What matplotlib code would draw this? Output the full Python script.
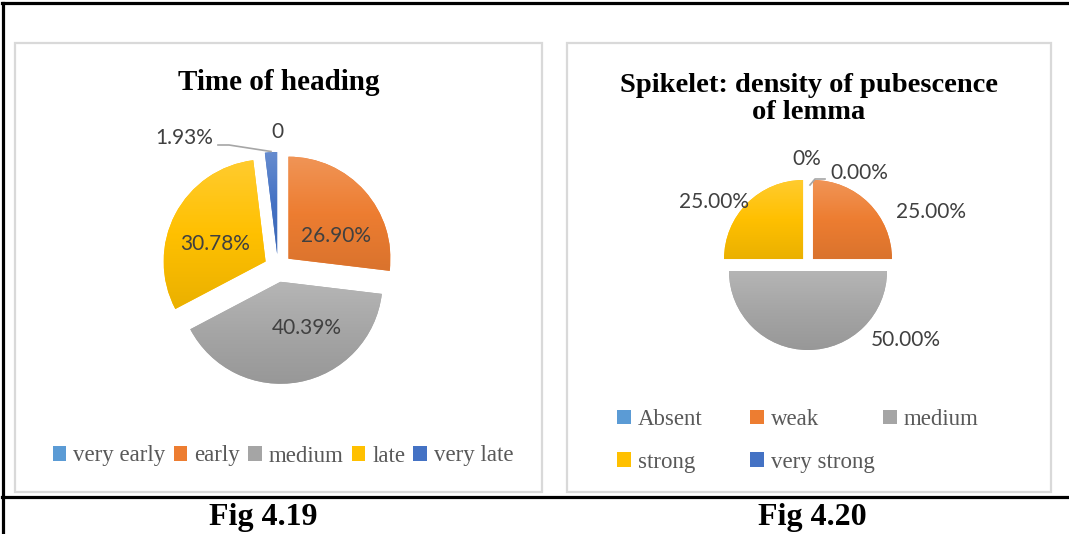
import matplotlib.pyplot as plt
import matplotlib.colors as mcolors
import numpy as np
from matplotlib.patches import Rectangle
from matplotlib.lines import Line2D

W, H = 1069, 534

# Fig 4.19 - time of heading
heading_labels = ["very early", "early", "medium", "late", "very late"]
heading_values = [0.0, 26.90, 40.39, 30.78, 1.93]
heading_text = ["0", "26.90%", "40.39%", "30.78%", "1.93%"]

# Fig 4.20 - density of pubescence of lemma
lemma_labels = ["Absent", "weak", "medium", "strong", "very strong"]
lemma_values = [0.0, 25.0, 50.0, 25.0, 0.0]
lemma_text = ["0%", "25.00%", "50.00%", "25.00%", "0.00%"]

colors = ["#5B9BD5", "#ED7D31", "#A5A5A5", "#FFC000", "#4472C4"]

# label positions (pixels) for the data labels
heading_label_xy = [(277, 132), (336, 236), (307, 328), (215, 244), (184, 138)]
lemma_label_xy = [(807, 159), (931, 212), (906, 340), (714, 202), (859, 173)]

SERIF = "Liberation Serif"
SANS = "Lato"
LABEL_C = "#404040"
LEGEND_C = "#595959"


def mix(c, other, t):
    a = np.array(mcolors.to_rgb(c))
    b = np.array(mcolors.to_rgb(other))
    return tuple(a * (1 - t) + b * t)


def gradient_fill(ax, wedges, values):
    for w, v in zip(wedges, values):
        if v <= 0:
            continue
        base = w.get_facecolor()
        cmap = mcolors.LinearSegmentedColormap.from_list(
            "g", [mix(base, "white", 0.18), base[:3], mix(base, "black", 0.08)])
        ext = w.get_path().get_extents()
        grad = np.linspace(0, 1, 64).reshape(-1, 1)
        im = ax.imshow(grad, cmap=cmap, aspect="auto",
                       extent=(ext.x0, ext.x1, ext.y1, ext.y0),
                       zorder=w.get_zorder() + 0.1, interpolation="bilinear")
        im.set_clip_path(w)


fig = plt.figure(figsize=(W / 100, H / 100), dpi=100)
ax = fig.add_axes([0, 0, 1, 1])

# page / table lines (figure pixels, y from top)
for xs, ys in [([2, W], [3, 3]), ([3, 3], [3, H]), ([2, W], [497, 497])]:
    fig.add_artist(Line2D([x / W for x in xs], [1 - y / H for y in ys],
                          color="black", lw=2.3, transform=fig.transFigure))
ax.add_patch(Rectangle((15, 43), 527, 449, fill=False, ec="#D9D9D9", lw=1.6))
ax.add_patch(Rectangle((567, 43), 484, 449, fill=False, ec="#D9D9D9", lw=1.6))

# left pie (explode in pixels)
explode = [14] * len(heading_values)
w1, _ = ax.pie(heading_values, colors=colors, explode=explode, radius=102,
               center=(278, 268), startangle=-90, counterclock=True,
               wedgeprops=dict(linewidth=0), normalize=True)
gradient_fill(ax, w1, heading_values)

# right pie
explode = [7] * len(lemma_values)
w2, _ = ax.pie(lemma_values, colors=colors, explode=explode, radius=79,
               center=(808, 264), startangle=-90, counterclock=True,
               wedgeprops=dict(linewidth=0), normalize=True)
gradient_fill(ax, w2, lemma_values)

ax.set_xlim(0, W)
ax.set_ylim(H, 0)
ax.set_aspect("auto")
ax.axis("off")

# data labels
for txt, (x, y) in zip(heading_text, heading_label_xy):
    ax.text(x, y, txt, ha="center", va="center", family=SANS,
            fontsize=15, color=LABEL_C)
for txt, (x, y) in zip(lemma_text, lemma_label_xy):
    ax.text(x, y, txt, ha="center", va="center", family=SANS,
            fontsize=15, color=LABEL_C)

# leader lines
ax.plot([218, 229, 271], [145, 145, 151.5], color="#A6A6A6", lw=1.2)
ax.plot([810, 815, 825], [185, 179, 179], color="#A6A6A6", lw=1.2)

# titles
ax.text(279, 82, "Time of heading", ha="center", va="center", family=SERIF,
        fontweight="bold", fontsize=21)
ax.text(809, 99, "Spikelet: density of pubescence\nof lemma", ha="center",
        va="center", family=SERIF, fontweight="bold", fontsize=20.5,
        linespacing=1.12)

# captions
ax.text(263, 517, "Fig 4.19", ha="center", va="center", family=SERIF,
        fontweight="bold", fontsize=23)
ax.text(812, 517, "Fig 4.20", ha="center", va="center", family=SERIF,
        fontweight="bold", fontsize=23)

# legends
leg_font = dict(family=SERIF, size=16.5)
handles = [Rectangle((0, 0), 1, 1, fc=c, ec="none") for c in colors]
fig.legend(handles, heading_labels, loc="center",
           bbox_to_anchor=(283 / W, 1 - 456 / H), ncol=5, frameon=False,
           prop=leg_font, labelcolor=LEGEND_C, handlelength=0.6,
           handleheight=0.6, handletextpad=0.3, columnspacing=0.35,
           borderpad=0)

columns = [[0, 3], [1, 4], [2]]
col_x = [617, 750, 883]
for idx, x in zip(columns, col_x):
    fig.legend([handles[i] for i in idx], [lemma_labels[i] for i in idx],
               loc="upper left", bbox_to_anchor=(x / W, 1 - 409 / H),
               frameon=False, prop=leg_font, labelcolor=LEGEND_C,
               handlelength=0.6, handleheight=0.6, handletextpad=0.3,
               labelspacing=0.95, borderpad=0, borderaxespad=0)

fig.savefig("out.png", dpi=100)
